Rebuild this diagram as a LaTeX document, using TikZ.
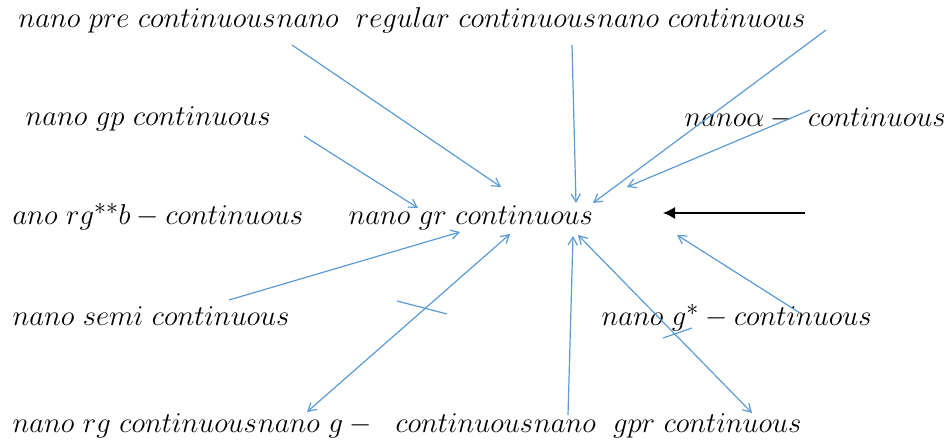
\documentclass[tikz,border=0pt]{standalone}
\usetikzlibrary{arrows.meta}

\tikzset{every picture/.style={line width=0.75pt}}
\newcommand{\conc}[1]{\scalebox{0.865}{\Huge$#1$}}
\tikzset{
  concept/.style={anchor=base west,inner sep=0pt},
  blueline/.style={color={rgb, 255:red, 91; green, 155; blue, 213 },line width=0.9pt},
  bluearrow/.style={blueline,-{Straight Barb[length=6pt,width=7pt]}},
  bluedouble/.style={blueline,{Straight Barb[length=6pt,width=7pt]}-{Straight Barb[length=6pt,width=7pt]}}
}

\begin{document}
\begin{tikzpicture}[x=0.75pt,y=0.75pt,yscale=-1,xscale=1]
\useasboundingbox (0,0) rectangle (949,441);

% Text Node
\node [concept] (pre) at (18,28) {\conc{nano\ pre\ continuous}};
% Text Node
\node [concept] (regular) at (pre.base east) {\conc{nano\ \ regular\ continuous}};
% Text Node
\node [concept] (cont) at (regular.base east) {\conc{nano\ continuous}};
% Text Node
\node [concept] (gp) at (25,126) {\conc{nano\ gp\ continuous}};
% Text Node
\node [concept] (alpha) at (684,127) {\conc{nano\alpha-\ continuous}};
% Text Node
\node [concept] (rgb) at (12,225) {\conc{ano\ rg^{**}b-continuous}};
% Text Node
\node [concept] (gr) at (348,225) {\conc{nano\ gr\ continuous}};
% Text Node
\node [concept] (semi) at (12,326) {\conc{nano\ semi\ continuous}};
% Text Node
\node [concept] (gstar) at (601,326) {\conc{nano\ g^{*}-continuous}};
% Text Node
\node [concept] (rg) at (12,432) {\conc{nano\ rg\ continuous}};
% Text Node
\node [concept] (gminus) at (rg.base east) {\conc{nano\ g-\ \ continuous}};
% Text Node
\node [concept] (gpr) at (gminus.base east) {\conc{nano\ \ gpr\ continuous}};

% Line ends
\coordinate (preS) at (292,45);
\coordinate (grA) at (501,187);
\coordinate (regularS) at (572,45);
\coordinate (grB) at (576,203);
\coordinate (contS) at (826,30);
\coordinate (grC) at (593,203);
\coordinate (alphaS) at (810,110);
\coordinate (grD) at (627,187);
\coordinate (gpS) at (304,136);
\coordinate (grE) at (418,208);
\coordinate (blackS) at (805,213);
\coordinate (blackE) at (663,213);
\coordinate (semiS) at (229,300);
\coordinate (grF) at (460,232);
\coordinate (rgE) at (307,412);
\coordinate (grG) at (510,234);
\coordinate (gprS) at (568,415);
\coordinate (grH) at (573,236);
\coordinate (gprE) at (752,413);
\coordinate (grI) at (578,235);
\coordinate (gstarS) at (800,313);
\coordinate (grJ) at (677,235);

%Straight Lines
\draw [bluearrow] (preS) -- (grA);
\draw [bluearrow] (regularS) -- (grB);
\draw [bluearrow] (contS) -- (grC);
\draw [bluearrow] (alphaS) -- (grD);
\draw [bluearrow] (gpS) -- (grE);
\draw [bluearrow] (semiS) -- (grF);
\draw [bluedouble] (rgE) -- (grG);
\draw [bluearrow] (gprS) -- (grH);
\draw [bluedouble] (gprE) -- (grI);
\draw [bluearrow] (gstarS) -- (grJ);
%Straight Lines
\draw [line width=1pt,-{Latex[length=9pt,width=9pt]}] (blackS) -- (blackE);
%Straight Lines
\draw [blueline] (397,301) -- (447,314);
\draw [blueline] (663,338) -- (692,328);

\end{tikzpicture}
\end{document}
